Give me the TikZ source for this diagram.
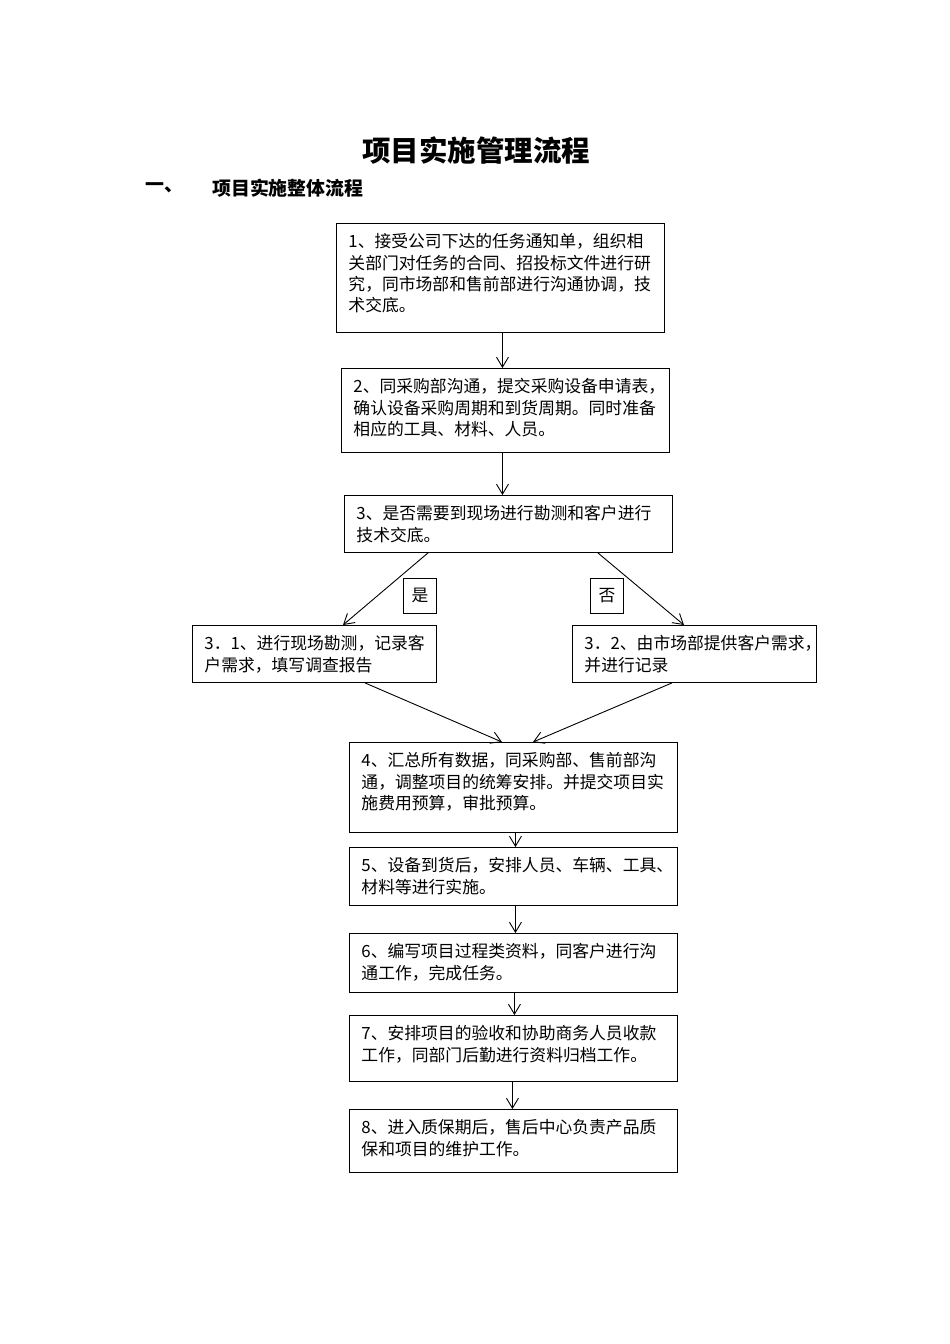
\documentclass[tikz,border=0pt]{standalone}
\usepackage{fontspec}
\setmainfont{Noto Sans CJK SC}
\usepackage{tikz}
\usetikzlibrary{arrows.meta,positioning}

\newcommand{\bodyfont}{\fontsize{16.8pt}{21.3pt}\selectfont}

\begin{document}
\begin{tikzpicture}[
    x=1pt, y=-1pt,
    stepbox/.style 2 args={draw=black, line width=0.9pt, anchor=north west, inner xsep=12pt, inner ysep=9.5pt, font=\bodyfont,
        execute at begin node={\begin{minipage}[t][\dimexpr#2pt-19pt\relax][t]{\dimexpr#1pt-24pt\relax}\raggedright\strut},
        execute at end node={\end{minipage}}},
    tagbox/.style={draw=black, line width=0.9pt, anchor=north west, minimum width=33pt, minimum height=35pt, inner sep=0pt, font=\bodyfont},
    heading/.style={anchor=west, inner sep=0pt, font=\fontsize{18.9pt}{22pt}\selectfont\bfseries},
    arrow/.style={-{Straight Barb[length=10pt,width=12pt]}, draw=black, line width=0.9pt}
]
\useasboundingbox (0,0) rectangle (950,1344);

% Title
\node [font=\fontsize{28.5pt}{32pt}\selectfont\bfseries, inner sep=0pt] (title) at (476,151) {项目实施管理流程};
\node [heading] (secnum) at (145,188) {一、};
\node [heading] (sectitle) at (212,188) {项目实施整体流程};

% Steps
\node [stepbox={328}{109}] (s1) at (336,223) {1、接受公司下达的任务通知单，组织相\\关部门对任务的合同、招投标文件进行研\\究，同市场部和售前部进行沟通协调，技\\术交底。};
\node [stepbox={328}{84}] (s2) at (341,368) {2、同采购部沟通，提交采购设备申请表，\\确认设备采购周期和到货周期。同时准备\\相应的工具、材料、人员。};
\node [stepbox={328}{57}] (s3) at (344,495) {3、是否需要到现场进行勘测和客户进行\\技术交底。};

% Branches
\node [stepbox={244}{57}] (s31) at (192,625) {3．1、进行现场勘测，记录客\\户需求，填写调查报告};
\node [stepbox={244}{57}] (s32) at (572,625) {3．2、由市场部提供客户需求，\\并进行记录};
\node [tagbox] (yes) at (403,578) {是};
\node [tagbox] (no) at (590,578) {否};

\node [stepbox={328}{90}] (s4) at (349,742) {4、汇总所有数据，同采购部、售前部沟\\通，调整项目的统筹安排。并提交项目实\\施费用预算，审批预算。};
\node [stepbox={328}{58}] (s5) at (349,847) {5、设备到货后，安排人员、车辆、工具、\\材料等进行实施。};
\node [stepbox={328}{59}] (s6) at (349,933) {6、编写项目过程类资料，同客户进行沟\\通工作，完成任务。};
\node [stepbox={328}{66}] (s7) at (349,1015) {7、安排项目的验收和协助商务人员收款\\工作，同部门后勤进行资料归档工作。};
\node [stepbox={328}{63}] (s8) at (349,1109) {8、进入质保期后，售后中心负责产品质\\保和项目的维护工作。};

% Arrows - main line
\draw [arrow] ([xshift=2pt]s1.south) -- ([xshift=-3pt]s2.north);
\draw [arrow] ([xshift=-3pt]s2.south) -- ([xshift=-6pt]s3.north);

% Arrows - decision
\draw [arrow] ([xshift=84pt]s3.south west) -- ([xshift=151pt]s31.north west);
\draw [arrow] ([xshift=-75pt]s3.south east) -- ([xshift=112pt]s32.north west);
\draw [arrow] ([xshift=173pt]s31.south west) -- ([xshift=153pt]s4.north west);
\draw [arrow] ([xshift=100pt]s32.south west) -- ([xshift=184pt]s4.north west);

% Arrows - to the end
\draw [arrow] ([xshift=2pt]s4.south) -- ([xshift=2pt]s5.north);
\draw [arrow] ([xshift=2pt]s5.south) -- ([xshift=2pt]s6.north);
\draw [arrow] ([xshift=1pt]s6.south) -- ([xshift=1pt]s7.north);
\draw [arrow] ([xshift=-1pt]s7.south) -- ([xshift=-1pt]s8.north);

\end{tikzpicture}
\end{document}
